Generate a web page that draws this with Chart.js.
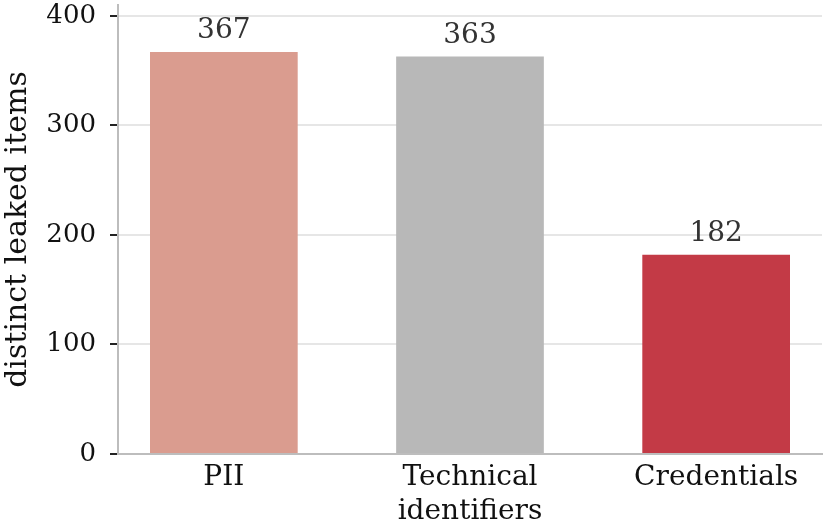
<!DOCTYPE html>
<html>
<head>
    <script src="https://cdn.jsdelivr.net/npm/chart.js"></script>
    <style>
        html, body { margin: 0; padding: 0; background: #fff; }
        #wrap { width: 826px; height: 531px; }
    </style>
</head>
<body>
    <div id="wrap"><canvas id="myChart" width="826" height="531"></canvas></div>

    <script>
        // data
        var categories = ['PII', 'Technical identifiers', 'Credentials'];
        var tickLabels = [['PII'], ['Technical', 'identifiers'], ['Credentials']];
        var leakedItems = [367, 363, 182];
        var barColors = ['#DA9C8F', '#B8B8B8', '#C33A46'];
        var yTicks = [0, 100, 200, 300, 400];

        var serif = "'DejaVu Serif', serif";

        // value written above each bar
        var valueLabels = {
            id: 'valueLabels',
            afterDatasetsDraw: function(chart) {
                var ctx = chart.ctx;
                var meta = chart.getDatasetMeta(0);
                ctx.save();
                ctx.font = '28px ' + serif;
                ctx.fillStyle = '#333';
                ctx.textAlign = 'center';
                ctx.textBaseline = 'bottom';
                meta.data.forEach(function(bar, i) {
                    ctx.fillText(String(leakedItems[i]), bar.x, bar.y - 7);
                });
                ctx.restore();
            }
        };

        var ctx = document.getElementById('myChart').getContext('2d');
        var chart = new Chart(ctx, {
            type: 'bar',
            data: {
                datasets: [{
                    label: 'distinct leaked items',
                    data: leakedItems.map(function(v, i) { return { x: i, y: v }; }),
                    backgroundColor: barColors,
                    borderWidth: 0,
                    barPercentage: 0.75,
                    categoryPercentage: 0.8
                }]
            },
            options: {
                responsive: false,
                animation: false,
                layout: { padding: { top: 5, right: 4 } },
                plugins: {
                    legend: { display: false },
                    tooltip: { enabled: false }
                },
                scales: {
                    x: {
                        type: 'linear',
                        offset: false,
                        min: -0.43,
                        max: 2.43,
                        afterBuildTicks: function(scale) {
                            scale.ticks = categories.map(function(c, i) { return { value: i }; });
                        },
                        afterFit: function(scale) {
                            scale.height = 77;
                            scale.paddingLeft = 0;
                            scale.paddingRight = 0;
                        },
                        grid: { display: false, drawTicks: false },
                        border: { display: true, color: '#bdbdbd', width: 2 },
                        ticks: {
                            autoSkip: false,
                            maxRotation: 0,
                            padding: 7,
                            color: '#111',
                            font: { family: serif, size: 28, lineHeight: 1.2 },
                            callback: function(v) { return tickLabels[v]; }
                        }
                    },
                    y: {
                        min: 0,
                        max: 410,
                        afterBuildTicks: function(scale) {
                            scale.ticks = yTicks.map(function(v) { return { value: v }; });
                        },
                        afterFit: function(scale) {
                            scale.width = 118;
                            scale.paddingTop = 0;
                            scale.paddingBottom = 0;
                        },
                        grid: {
                            color: '#e6e6e6',
                            lineWidth: 2,
                            tickColor: '#222',
                            tickLength: 8,
                            tickWidth: 2
                        },
                        border: { display: true, color: '#bdbdbd', width: 2 },
                        ticks: {
                            padding: 14,
                            color: '#111',
                            font: { family: serif, size: 26 }
                        },
                        title: {
                            display: true,
                            text: 'distinct leaked items',
                            color: '#111',
                            padding: 0,
                            font: { family: serif, size: 30 }
                        }
                    }
                }
            },
            plugins: [valueLabels]
        });
    </script>
</body>
</html>
